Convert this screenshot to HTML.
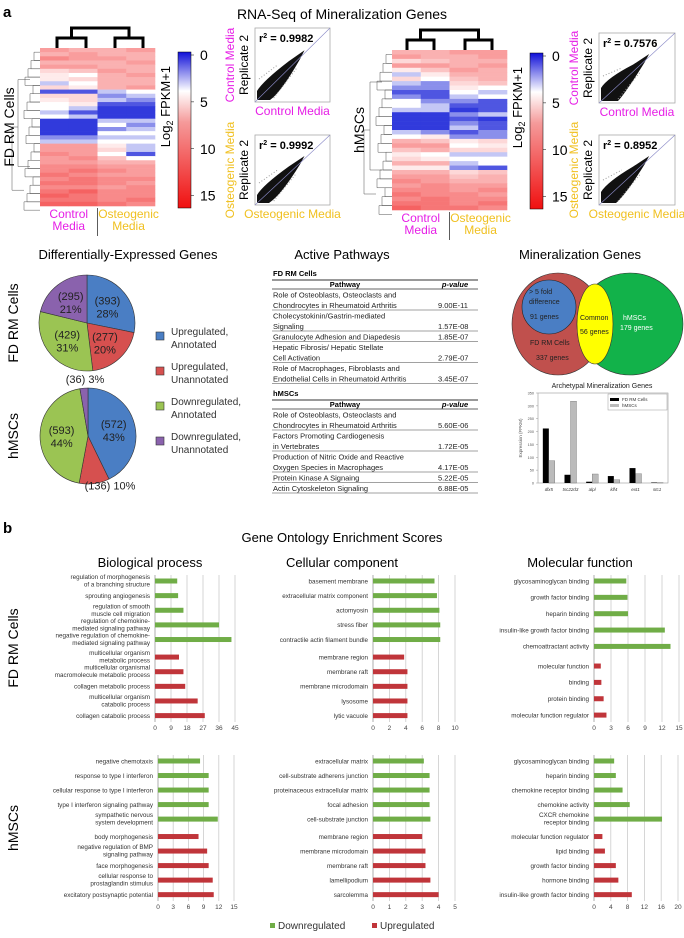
<!DOCTYPE html>
<html><head><meta charset="utf-8"><style>
html,body{margin:0;padding:0;background:#fff}
svg{display:block;font-family:"Liberation Sans",Arial,sans-serif}
</style></head><body>
<svg id="fig" width="684" height="938" viewBox="0 0 684 938" xmlns="http://www.w3.org/2000/svg">
<defs>
<linearGradient id="cbar" x1="0" y1="0" x2="0" y2="1">
<stop offset="0" stop-color="#1010d8"/><stop offset="0.25" stop-color="#ffffff"/><stop offset="0.45" stop-color="#f59a9a"/><stop offset="1" stop-color="#f01010"/>
</linearGradient>
</defs>
<g id="gtop"></g>
<g id="gmid"></g>
<g id="gbot"></g>
</svg>
<script>
// ---------- DATA ----------
const fdHeat = [
[9,8,8,9],[8,9,8,8],[10,9,9,8],[8,8,8,9],[9,9,8,8],[6,7,9,8],[5,4,8,9],[5,6,8,8],[3,4,8,8],[6,5,8,9],
[1,1,3,4],[6,6,2,3],[5,6,3,2],[4,5,1,1],[4,3,0.5,0.5],[3,1,0.5,0.5],[4,3,0.5,0.5],[0.5,0.5,3,3],[0.5,0.5,4,2],[0.5,0.5,2,3],
[0.5,0.5,4,4],[2,2,3,3],[3,3,4,4],[9,9,5,3],[9,9,6,3],[10,9,4,1],[9,10,7,4],[9,9,8,8],[10,10,9,9],[10,11,10,9],
[11,10,9,9],[10,11,10,10],[11,11,10,9],[10,10,9,10],[11,12,10,10],[12,11,10,10],[11,11,10,11],[12,12,11,10]];
const hmHeat = [
[8,8,9,9],[9,8,8,9],[6,7,8,8],[9,9,8,9],[5,7,9,8],[3,5,8,8],[6,4,7,8],[3,2,6,7],[2,2,5,4],[1,1,4,3],
[2,1,3,4],[4,2,2,1],[4,3,1,1],[3,3,0.5,1],[0.5,0.5,2,3],[0.5,0.5,1,0.5],[0.5,0.5,2,1],[0.5,0.5,3,1],[3,2,1,2],[4,5,2,2],
[8,7,5,6],[9,9,4,5],[7,8,6,6],[5,4,3,3],[6,5,4,4],[8,8,3,4],[5,5,2,1],[8,8,6,7],[9,9,7,8],[10,9,8,8],
[9,10,9,9],[10,10,9,10],[11,10,10,9],[10,11,10,10],[11,11,10,11],[12,11,11,10]];
const colorTicks = [0,5,10,15];
const fdPieCounts = [393,277,429,295];
const fdPiePct = [28,20,31,21];
const hmPieCounts = [572,136,593,36];
const hmPiePct = [43,10,44,3];
const pieColors = ["#4a7ec4","#d6504f","#9bc453","#8a62ad"];
const pieLegend = [["Upregulated,","Annotated"],["Upregulated,","Unannotated"],["Downregulated,","Annotated"],["Downregulated,","Unannotated"]];
const fdPathways = [["Role of Osteoblasts, Osteoclasts and","Chondrocytes in Rheumatoid Arthritis","9.00E-11"],["Cholecystokinin/Gastrin-mediated","Signaling","1.57E-08"],["Granulocyte Adhesion and Diapedesis","","1.85E-07"],["Hepatic Fibrosis/ Hepatic Stellate","Cell Activation","2.79E-07"],["Role of Macrophages, Fibroblasts and","Endothelial Cells in Rheumatoid Arthritis","3.45E-07"]];
const hmPathways = [["Role of Osteoblasts, Osteoclasts and","Chondrocytes in Rheumatoid Arthritis","5.60E-06"],["Factors Promoting Cardiogenesis","in Vertebrates","1.72E-05"],["Production of Nitric Oxide and Reactive","Oxygen Species in Macrophages","4.17E-05"],["Protein Kinase A Signaing","","5.22E-05"],["Actin Cytoskeleton Signaling","","6.88E-05"]];
const archGenes = ["dlx5","tsc22d3","alpl","klf4","ext1","stc1"];
const archFD = [212,32,5,27,58,2];
const archHM = [87,318,35,13,36,1];
const archTicks = [0,50,100,150,200,250,300,350];

const bpFdLabels = [["regulation of morphogenesis","of a branching structure"],["sprouting angiogenesis"],["regulation of smooth","muscle cell migration"],["regulation of chemokine-","mediated signaling pathway"],["negative regulation of chemokine-","mediated signaling pathway"],["multicellular organism","metabolic process"],["multicellular organismal","macromolecule metabolic process"],["collagen metabolic process"],["multicellular organism","catabolic process"],["collagen catabolic process"]];
const bpFdValues = [12.5,13,16,36,43,13.5,16,17,24,28];
const bpFdTicks = [0,9,18,27,36,45];
const ccFdLabels = [["basement membrane"],["extracellular matrix component"],["actomyosin"],["stress fiber"],["contractile actin filament bundle"],["membrane region"],["membrane raft"],["membrane microdomain"],["lysosome"],["lytic vacuole"]];
const ccFdValues = [7.5,7.8,8.1,8.2,8.2,3.8,4.2,4.2,4.2,4.2];
const ccFdTicks = [0,2,4,6,8,10];
const mfFdLabels = [["glycosaminoglycan binding"],["growth factor binding"],["heparin binding"],["insulin-like growth factor binding"],["chemoattractant activity"],["molecular function"],["binding"],["protein binding"],["molecular function regulator"]];
const mfFdValues = [5.7,5.9,6,12.5,13.5,1.2,1.3,1.7,2.2];
const mfFdTicks = [0,3,6,9,12,15];
const bpHmLabels = [["negative chemotaxis"],["response to type I interferon"],["cellular response to type I interferon"],["type I interferon signaling pathway"],["sympathetic nervous","system development"],["body morphogenesis"],["negative regulation of BMP","signaling pathway"],["face morphogenesis"],["cellular response to","prostaglandin stimulus"],["excitatory postsynaptic potential"]];
const bpHmValues = [8.3,10,10,10,11.8,8,9.7,10,10.8,11];
const bpHmTicks = [0,3,6,9,12,15];
const ccHmLabels = [["extracellular matrix"],["cell-substrate adherens junction"],["proteinaceous extracellular matrix"],["focal adhesion"],["cell-substrate junction"],["membrane region"],["membrane microdomain"],["membrane raft"],["lamellipodium"],["sarcolemma"]];
const ccHmValues = [3.1,3.45,3.45,3.45,3.5,3,3.2,3.2,3.5,4];
const ccHmTicks = [0,1,2,3,4,5];
const mfHmLabels = [["glycosaminoglycan binding"],["heparin binding"],["chemokine receptor binding"],["chemokine activity"],["CXCR chemokine","receptor binding"],["molecular function regulator"],["lipid binding"],["growth factor binding"],["hormone binding"],["insulin-like growth factor binding"]];
const mfHmValues = [4.8,5.2,6.8,8.5,16.2,2,2.6,5.2,5.8,9];
const mfHmTicks = [0,4,8,12,16,20];
const goDownCount = {bpFd:5,ccFd:5,mfFd:5,bpHm:5,ccHm:5,mfHm:5};

// ---------- HELPERS ----------
const NS="http://www.w3.org/2000/svg";
function mk(parent,tag,attrs,text){const e=document.createElementNS(NS,tag);for(const k in attrs)e.setAttribute(k,attrs[k]);if(text!==undefined)e.textContent=text;parent.appendChild(e);return e;}
function heatColor(v){
  if(v<=4){const t=v/4;return `rgb(${Math.round(20+235*t)},${Math.round(30+225*t)},${Math.round(215+40*t)})`;}
  const t=Math.min(1,(v-4)/12);return `rgb(${Math.round(255-15*t)},${Math.round(255-235*t)},${Math.round(255-235*t)})`;
}
const topG=document.getElementById('gtop'),midG=document.getElementById('gmid'),botG=document.getElementById('gbot');

// ---------- PANEL A TOP ----------
let t=mk(topG,'text',{x:3,y:17,'font-size':15,'font-weight':'bold'},'a');

t=mk(topG,'text',{x:342,y:19,'font-size':14,'text-anchor':'middle'},'RNA-Seq of Mineralization Genes');


function heatmap(data,x0,y0,w,h,cols,name,cellLabel,cellLabelX,cbx,cby,cbh){
  const g=mk(topG,'g',{});
  
  const rh=h/data.length,cw=w/4;
  data.forEach((row,i)=>row.forEach((v,j)=>{
    const r=mk(g,'rect',{x:x0+j*cw,y:y0+i*rh,width:cw+0.3,height:rh+0.3,fill:heatColor(v)});
    
  }));
  const d=mk(g,'path',{d:`M${cols[0]} ${y0} V${y0-10} H${cols[1]} V${y0} M${cols[2]} ${y0} V${y0-10} H${cols[3]} V${y0} M${(cols[0]+cols[1])/2} ${y0-10} V${y0-20} H${(cols[2]+cols[3])/2} V${y0-10}`,stroke:'#000','stroke-width':3,fill:'none'});
  
  let p='';const L=x0;
  for(let i=0;i<data.length;i+=2){const yy=y0+(i+1)*rh;const dx=6+((i*7)%11);p+=`M${L} ${yy} H${L-dx} V${yy+rh*2} H${L} `;}
  p+=`M${L-10} ${y0+h*0.2} H${L-22} V${y0+h*0.75} H${L-10} M${L-22} ${y0+h*0.5} H${L-28} V${y0+h*0.9} H${L-16}`;
  const ld=mk(g,'path',{d:p,stroke:'#555','stroke-width':0.5,fill:'none'});
  
  let a=mk(g,'text',{x:cellLabelX,y:y0+h/2,'font-size':14,'text-anchor':'middle',transform:`rotate(-90 ${cellLabelX} ${y0+h/2})`},cellLabel);
  
  const cx=x0+w*0.25,ox=x0+w*0.77;
  a=mk(g,'text',{x:cx,y:y0+h+12,'font-size':12,'text-anchor':'middle',fill:'#e61ee6'},'Control');
  mk(g,'text',{x:cx,y:y0+h+24,'font-size':12,'text-anchor':'middle',fill:'#e61ee6'},'Media');
  a=mk(g,'text',{x:ox,y:y0+h+12,'font-size':12,'text-anchor':'middle',fill:'#f0c020'},'Osteogenic');
  mk(g,'text',{x:ox,y:y0+h+24,'font-size':12,'text-anchor':'middle',fill:'#f0c020'},'Media');
  mk(g,'line',{x1:x0+w/2,y1:y0+h+2,x2:x0+w/2,y2:y0+h+30,stroke:'#333','stroke-width':0.8});
  const cb=mk(g,'rect',{x:cbx,y:cby,width:13,height:cbh,fill:'url(#cbar)',stroke:'#000','stroke-width':0.5});
  
  colorTicks.forEach(v=>{const yy=cby+3+v/16*(cbh-6);
    mk(g,'line',{x1:cbx+13,y1:yy,x2:cbx+16,y2:yy,stroke:'#000','stroke-width':0.5});
    const tt=mk(g,'text',{x:cbx+22,y:yy+5,'font-size':14},String(v));
    });
  const lx=cbx-8,ly=cby+cbh*0.35;
  a=mk(g,'text',{x:lx,y:ly,'font-size':13,'text-anchor':'middle',transform:`rotate(-90 ${lx} ${ly})`});
  a.innerHTML='Log<tspan font-size="9" dy="3">2</tspan><tspan dy="-3"> FPKM+1</tspan>';
  
}
heatmap(fdHeat,40,48,115,158,[57,86,115,143],'fd-heatmap','FD RM Cells',14,178,52,156);
heatmap(hmHeat,392,50,115,160,[407,434,465,492],'hmsc-heatmap','hMSCs',364,530,53,156);

function scatter(x,y,w,h,r2,xl,col,name,spread){
  const g=mk(topG,'g',{});
  mk(g,'rect',{x:x,y:y,width:w,height:h,fill:'#fff',stroke:'#aaa','stroke-width':0.8});
  const s=spread;
  const blob=mk(g,'path',{d:`M${x+2} ${y+h-2} L${x+2} ${y+h-8-s} Q${x+8} ${y+h-18-s} ${x+w*0.45} ${y+h*0.45} L${x+w*0.66} ${y+h*0.3} L${x+w*0.6} ${y+h*0.42} Q${x+w*0.35} ${y+h-10} ${x+12+s} ${y+h-2} Z`,fill:'#111'});
  
  mk(g,'path',{d:`M${x+4} ${y+h-20-s} L${x+w*0.3} ${y+h*0.5} M${x+w*0.25} ${y+h-4} L${x+w*0.55} ${y+h*0.55}`,stroke:'#999','stroke-width':1,fill:'none','stroke-dasharray':'1 2'});
  mk(g,'line',{x1:x,y1:y+h,x2:x+w,y2:y,stroke:'#8b8bc8','stroke-width':0.6});
  let a=mk(g,'text',{x:x+4,y:y+14,'font-size':11,'font-weight':'bold'});a.innerHTML='r<tspan font-size="7" dy="-4">2</tspan><tspan dy="4"> = '+r2+'</tspan>';
  
  a=mk(g,'text',{x:x+w/2,y:y+h+13,'font-size':12,'text-anchor':'middle',fill:col},xl);
  const rx=x-7,ry=y+h/2;
  a=mk(g,'text',{x:rx,y:ry,'font-size':12,'text-anchor':'middle',transform:`rotate(-90 ${rx} ${ry})`},'Replicate 2');
  const rx2=x-21;
  a=mk(g,'text',{x:rx2,y:ry,'font-size':12,'text-anchor':'middle',fill:col,transform:`rotate(-90 ${rx2} ${ry})`},xl);
}
scatter(255,28,75,74,'0.9982','Control Media','#e61ee6','fd-control-scatter',3);
scatter(255,135,75,70,'0.9992','Osteogenic Media','#f0c020','fd-osteo-scatter',2);
scatter(599,33,76,70,'0.7576','Control Media','#e61ee6','hmsc-control-scatter',7);
scatter(599,135,76,70,'0.8952','Osteogenic Media','#f0c020','hmsc-osteo-scatter',5);

// ---------- PIES ----------
t=mk(midG,'text',{x:128,y:259,'font-size':13,'text-anchor':'middle'},'Differentially-Expressed Genes');
function pie(counts,pct,cx,cy,r,name,labelPos){
  const g=mk(midG,'g',{});
  const tot=counts.reduce((a,b)=>a+b,0);let ang=-Math.PI/2;
  counts.forEach((c,i)=>{const a2=ang+c/tot*2*Math.PI;
    const x1=cx+r*Math.cos(ang),y1=cy+r*Math.sin(ang),x2=cx+r*Math.cos(a2),y2=cy+r*Math.sin(a2);
    const s=mk(g,'path',{d:`M${cx} ${cy} L${x1} ${y1} A${r} ${r} 0 ${a2-ang>Math.PI?1:0} 1 ${x2} ${y2} Z`,fill:pieColors[i],stroke:'#333','stroke-width':0.6});
    
    const mida=(ang+a2)/2;const lp=labelPos[i];
    if(lp==='out'){const tx=cx+(r+12)*Math.cos(mida)+14,ty=cy+(r+4)*Math.sin(mida)+2;
      const tt=mk(g,'text',{x:tx,y:ty,'font-size':11,'text-anchor':'middle',fill:'#222'},`(${c}) ${pct[i]}%`);}
    else if(lp==='in'){const tx=cx+r*0.55*Math.cos(mida),ty=cy+r*0.55*Math.sin(mida);
      const tt=mk(g,'text',{x:tx,y:ty-2,'font-size':11,'text-anchor':'middle',fill:'#222'},`(${c})`);
      mk(g,'text',{x:tx,y:ty+11,'font-size':11,'text-anchor':'middle',fill:'#222'},`${pct[i]}%`);}
    ang=a2;});
}
pie(fdPieCounts,fdPiePct,87,323,48,'fd-pie',['in','in','in','in']);
pie(hmPieCounts,hmPiePct,88,436,48,'hmsc-pie',['in','out','in','none']);
t=mk(midG,'text',{x:85,y:383,'font-size':11,'text-anchor':'middle',fill:'#222'},`(${hmPieCounts[3]}) ${hmPiePct[3]}%`);
t=mk(midG,'text',{x:18,y:323,'font-size':14,'text-anchor':'middle',transform:'rotate(-90 18 323)'},'FD RM Cells');
t=mk(midG,'text',{x:18,y:436,'font-size':14,'text-anchor':'middle',transform:'rotate(-90 18 436)'},'hMSCs');
pieLegend.forEach((l,i)=>{const y=337+i*35;
  const r=mk(midG,'rect',{x:156,y:y-5,width:8,height:8,fill:pieColors[i],stroke:'#333','stroke-width':0.6});
  const tt=mk(midG,'text',{x:171,y:y-2,'font-size':10,fill:'#333'},l[0]);
  mk(midG,'text',{x:171,y:y+11,'font-size':10,fill:'#333'},l[1]);});

// ---------- TABLE ----------
t=mk(midG,'text',{x:342,y:259,'font-size':13,'text-anchor':'middle'},'Active Pathways');
function table(title,rows,y0,name){
  const g=mk(midG,'g',{});
  mk(g,'text',{x:273,y:y0,'font-size':7.5,'font-weight':'bold'},title);
  mk(g,'line',{x1:272,y1:y0+4,x2:478,y2:y0+4,stroke:'#333','stroke-width':1});
  mk(g,'text',{x:345,y:y0+11,'font-size':7.5,'font-weight':'bold','text-anchor':'middle'},'Pathway');
  mk(g,'text',{x:455,y:y0+11,'font-size':7.5,'font-weight':'bold','font-style':'italic','text-anchor':'middle'},'p-value');
  mk(g,'line',{x1:272,y1:y0+13,x2:478,y2:y0+13,stroke:'#333','stroke-width':0.7});
  let y=y0+13;
  rows.forEach(r=>{const two=r[1]!=='';const hh=two?21:10.5;
    const tr=mk(g,'text',{x:273,y:y+8.5,'font-size':7.5,fill:'#222'},r[0]);
    if(two)mk(g,'text',{x:273,y:y+19,'font-size':7.5,fill:'#222'},r[1]);
    mk(g,'text',{x:438,y:y+hh-2,'font-size':7.5,fill:'#222'},r[2]);
    y+=hh;mk(g,'line',{x1:272,y1:y,x2:478,y2:y,stroke:'#444','stroke-width':0.6});});
}
table('FD RM Cells',fdPathways,276,'fd-pathway-table');
table('hMSCs',hmPathways,396,'hmsc-pathway-table');

// ---------- VENN ----------
t=mk(midG,'text',{x:580,y:259,'font-size':13,'text-anchor':'middle'},'Mineralization Genes');
let v=mk(midG,'ellipse',{cx:558,cy:324,rx:46,ry:51,fill:'#c0504d',stroke:'#333','stroke-width':0.6});
v=mk(midG,'ellipse',{cx:630,cy:324,rx:53,ry:51,fill:'#12b24a',stroke:'#333','stroke-width':0.6});
v=mk(midG,'ellipse',{cx:595,cy:324,rx:18,ry:40,fill:'#ffff00',stroke:'#333','stroke-width':0.6});
v=mk(midG,'circle',{cx:549,cy:307,r:27,fill:'#4a7ec4',stroke:'#222','stroke-width':0.6});
[["> 5 fold",529,294],["difference",529,304],["91 genes",530,319],["Common",580,320],["56 genes",580,334],["hMSCs",623,320],["179 genes",620,330],["FD RM Cells",530,345],["337 genes",536,360]].forEach(a=>{
  const tt=mk(midG,'text',{x:a[1],y:a[2],'font-size':7,fill:a[0].startsWith('hMSC')||a[0].startsWith('179')?'#fff':'#222'},a[0]);});

// ---------- ARCHETYPAL BAR CHART ----------
(function(){
  const g=mk(midG,'g',{});
  const X0=538,X1=668,Y0=483,Y1=393,ymax=350;
  const ys=v=>Y0-(v/ymax)*(Y0-Y1);
  let tt=mk(g,'text',{x:602,y:388,'font-size':7,'text-anchor':'middle',fill:'#222'},'Archetypal Mineralization Genes');
  mk(g,'rect',{x:X0,y:Y1,width:X1-X0,height:Y0-Y1,fill:'none',stroke:'#999','stroke-width':0.6});
  archTicks.forEach(v=>{mk(g,'line',{x1:X0-2,y1:ys(v),x2:X0,y2:ys(v),stroke:'#999','stroke-width':0.5});
    const a=mk(g,'text',{x:X0-4,y:ys(v)+1.5,'font-size':3.8,'text-anchor':'end',fill:'#555'},String(v));});
  tt=mk(g,'text',{x:522,y:438,'font-size':4.5,'text-anchor':'middle',fill:'#555',transform:'rotate(-90 522 438)'},'Expression (FPKM)');
  const bw=(X1-X0)/archGenes.length;
  archGenes.forEach((gname,i)=>{const cx=X0+bw*(i+0.5);
    let b=mk(g,'rect',{x:cx-6,y:ys(archFD[i]),width:6,height:Y0-ys(archFD[i]),fill:'#000'});
    b=mk(g,'rect',{x:cx,y:ys(archHM[i]),width:6,height:Y0-ys(archHM[i]),fill:'#bbb',stroke:'#555','stroke-width':0.3});
    const a=mk(g,'text',{x:cx,y:491,'font-size':4.5,'font-style':'italic','text-anchor':'middle',fill:'#333'},gname);});
  mk(g,'rect',{x:608,y:394,width:59,height:16,fill:'#fff',stroke:'#999','stroke-width':0.5});
  mk(g,'rect',{x:610,y:398,width:9,height:3,fill:'#000'});
  tt=mk(g,'text',{x:622,y:401,'font-size':4.5,fill:'#333'},'FD RM Cells');
  mk(g,'rect',{x:610,y:404,width:9,height:3,fill:'#bbb'});
  tt=mk(g,'text',{x:622,y:407,'font-size':4.5,fill:'#333'},'hMSCs');
})();

// ---------- PANEL B ----------
t=mk(botG,'text',{x:3,y:533,'font-size':15,'font-weight':'bold'},'b');
t=mk(botG,'text',{x:342,y:542,'font-size':13,'text-anchor':'middle'},'Gene Ontology Enrichment Scores');
[["Biological process",150],["Cellular component",342],["Molecular function",580]].forEach(a=>{const tt=mk(botG,'text',{x:a[1],y:567,'font-size':13,'text-anchor':'middle'},a[0]);});
t=mk(botG,'text',{x:18,y:648,'font-size':14,'text-anchor':'middle',transform:'rotate(-90 18 648)'},'FD RM Cells');
t=mk(botG,'text',{x:18,y:828,'font-size':14,'text-anchor':'middle',transform:'rotate(-90 18 828)'},'hMSCs');

function goChart(labels,values,ticks,nDown,x0,x1,yTop,yBot,name){
  const g=mk(botG,'g',{});
  const max=ticks[ticks.length-1];const xs=v=>x0+v/max*(x1-x0);
  ticks.forEach(v=>{mk(g,'line',{x1:xs(v),y1:yTop,x2:xs(v),y2:yBot,stroke:v===0?'#999':'#ccc','stroke-width':0.8});
    const a=mk(g,'text',{x:xs(v),y:yBot+8,'font-size':6.5,'text-anchor':'middle',fill:'#444'},String(v));});
  const n=labels.length,step=(yBot-yTop-8)/(n-0.5);
  labels.forEach((l,i)=>{const y=yTop+6+i*step+(i>=nDown?step*0.2:0);
    const b=mk(g,'rect',{x:x0,y:y-2.5,width:xs(values[i])-x0,height:5,fill:i<nDown?'#70ad47':'#c0353a'});
    
    const a=mk(g,'text',{x:x0-5,y:l.length>1?y-2:y+2.3,'font-size':6.3,'text-anchor':'end',fill:'#333'},l[0]);
    if(l.length>1)mk(g,'text',{x:x0-5,y:y+5.5,'font-size':6.3,'text-anchor':'end',fill:'#333'},l[1]);});
}
goChart(bpFdLabels,bpFdValues,bpFdTicks,goDownCount.bpFd,155,235,575,722,'bp-fd-chart');
goChart(ccFdLabels,ccFdValues,ccFdTicks,goDownCount.ccFd,373,455,575,722,'cc-fd-chart');
goChart(mfFdLabels,mfFdValues,mfFdTicks,goDownCount.mfFd,594,679,575,722,'mf-fd-chart');
goChart(bpHmLabels,bpHmValues,bpHmTicks,goDownCount.bpHm,158,234,755,901,'bp-hmsc-chart');
goChart(ccHmLabels,ccHmValues,ccHmTicks,goDownCount.ccHm,373,455,755,901,'cc-hmsc-chart');
goChart(mfHmLabels,mfHmValues,mfHmTicks,goDownCount.mfHm,594,678,755,901,'mf-hmsc-chart');

(function(){const g=mk(botG,'g',{});
  mk(g,'rect',{x:270,y:923,width:5,height:5,fill:'#70ad47'});
  let a=mk(g,'text',{x:278,y:929,'font-size':10,fill:'#333'},'Downregulated');
  mk(g,'rect',{x:372,y:923,width:5,height:5,fill:'#c0353a'});
  a=mk(g,'text',{x:380,y:929,'font-size':10,fill:'#333'},'Upregulated');
})();
</script>
</body></html>
